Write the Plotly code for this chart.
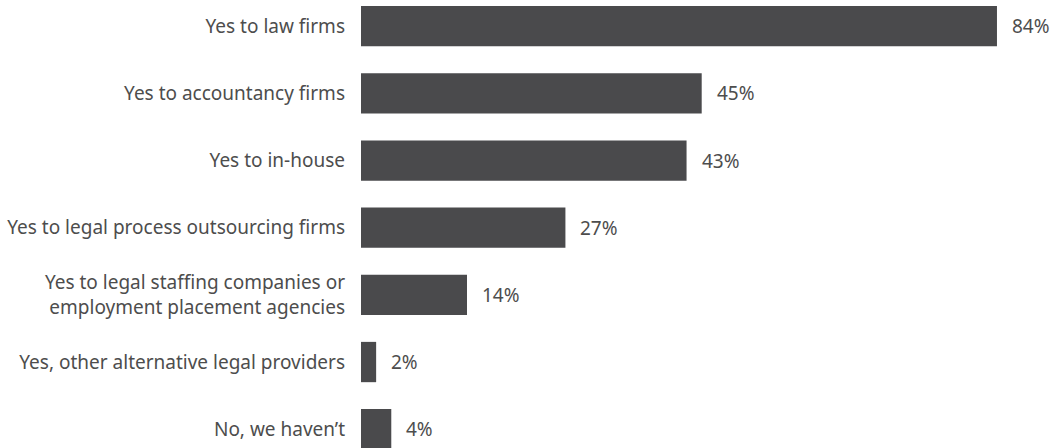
import plotly.graph_objects as go

categories = [
    "Yes to law firms",
    "Yes to accountancy firms",
    "Yes to in-house",
    "Yes to legal process outsourcing firms",
    "Yes to legal staffing companies or<br>employment placement agencies",
    "Yes, other alternative legal providers",
    "No, we haven\u2019t",
]
values = [84, 45, 43, 27, 14, 2, 4]
value_labels = [f"{v}%" for v in values]

BAR = "#4a4a4c"
TXT = "#4d4d4d"
FONT = "Noto Sans"
SIZE = 19

fig = go.Figure(go.Bar(
    x=values, y=categories, orientation="h",
    marker=dict(color=BAR, line=dict(width=0)),
    hoverinfo="skip",
))

for c, v, lab in zip(categories, values, value_labels):
    fig.add_annotation(x=v, y=c, text=lab, showarrow=False, xanchor="left",
                       xshift=13, font=dict(family=FONT, size=SIZE, color=TXT))

fig.update_layout(
    width=1053, height=448,
    margin=dict(l=361, r=0, t=0, b=0),
    paper_bgcolor="white", plot_bgcolor="white",
    bargap=0.4, showlegend=False,
    font=dict(family=FONT, size=SIZE, color=TXT),
    xaxis=dict(range=[0, 91.4], visible=False, fixedrange=True),
    yaxis=dict(range=[6.28, -0.39], showgrid=False, zeroline=False, showline=False,
               ticks="", ticklabelstandoff=15, fixedrange=True,
               tickfont=dict(family=FONT, size=SIZE, color=TXT)),
)

fig.write_html("out.html")
